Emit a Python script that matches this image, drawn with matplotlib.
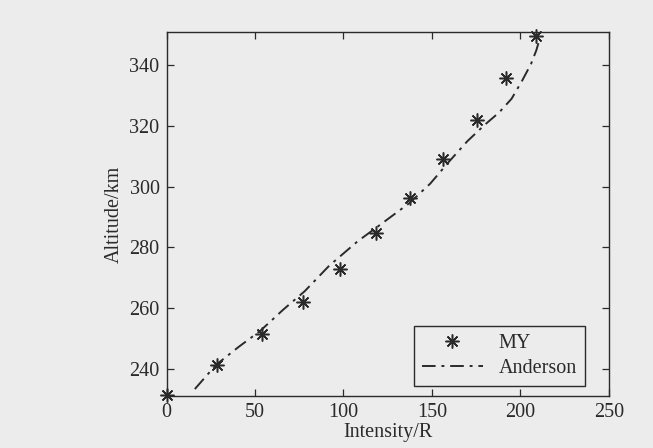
import matplotlib
matplotlib.use('Agg')
import matplotlib.pyplot as plt

# measured points (MY)
my_intensity = [0, 28.4, 54.1, 77.3, 98, 118.2, 137.6, 156.4, 175.5, 191.8, 208.6]
my_altitude = [231.3, 241.1, 251.4, 261.9, 272.8, 284.6, 296.4, 309.1, 322.0, 335.9, 349.7]

# model curve (Anderson)
anderson_intensity = [16, 28, 41, 53, 66, 78, 92, 108, 122, 137, 149, 160, 170,
                      180, 188, 195, 201, 206, 209, 210.5]
anderson_altitude = [233.3, 241.3, 247.3, 252.5, 259.5, 265.5, 274, 282, 288, 294.5,
                     301, 308.5, 315, 320.5, 324.5, 329, 335, 340.5, 345, 348]

x_ticks = [0, 50, 100, 150, 200, 250]
y_ticks = [240, 260, 280, 300, 320, 340]

bg = '#ececec'
ink = '#2a2a2a'

plt.rcParams['font.family'] = ['Liberation Serif', 'DejaVu Serif']
plt.rcParams['font.size'] = 14.5

fig = plt.figure(figsize=(6.53, 4.48), dpi=100, facecolor=bg)
ax = fig.add_axes([0.255, 0.116, 0.6775, 0.8126], facecolor=bg)

ax.plot(my_intensity, my_altitude, linestyle='none', marker=(8, 2, 0),
        markersize=10, markeredgewidth=1.1, color=ink, label='MY', clip_on=False)
ax.plot(anderson_intensity, anderson_altitude, linestyle=(0, (7, 3, 1.5, 3)),
        linewidth=1.4, color=ink, label='Anderson')

ax.set_xlim(0, 250)
ax.set_ylim(231, 351)
ax.set_xticks(x_ticks)
ax.set_yticks(y_ticks)
ax.tick_params(direction='in', length=5, width=0.9, top=True, right=True,
               colors=ink, labelcolor=ink, pad=5)
for s in ax.spines.values():
    s.set_color(ink)
    s.set_linewidth(1.0)

ax.set_xlabel('Intensity/R', color=ink, labelpad=1)
ax.set_ylabel('Altitude/km', color=ink, labelpad=4)

leg = ax.legend(loc='lower right', bbox_to_anchor=(0.9458, 0.0275), borderaxespad=0,
                fancybox=False, framealpha=1, facecolor=bg, edgecolor=ink,
                handlelength=3.0, borderpad=0.4, labelspacing=0.3, handletextpad=0.8)
leg.get_frame().set_linewidth(1.0)
for t in leg.get_texts():
    t.set_color(ink)

fig.savefig('out.png', dpi=100, facecolor=bg)
